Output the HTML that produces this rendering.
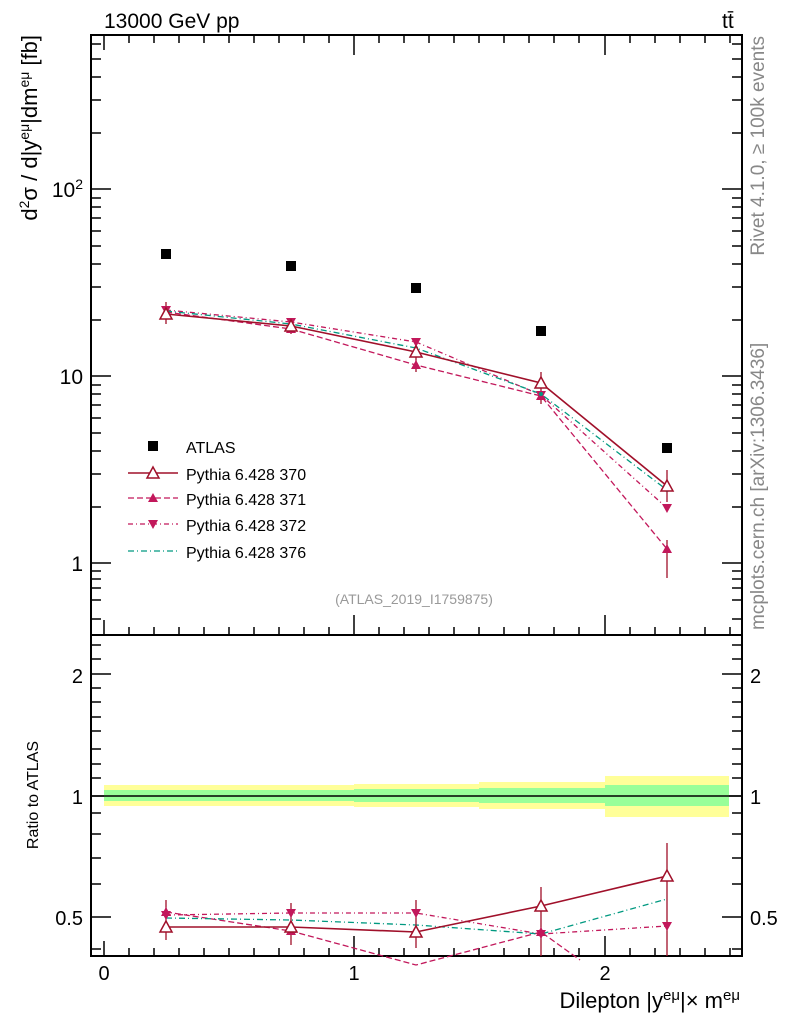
<!DOCTYPE html>
<html><head><style>body{margin:0;background:#fff}svg{display:block}text{font-family:"Liberation Sans",sans-serif}</style></head><body>
<svg width="786" height="1024" viewBox="0 0 786 1024" xmlns="http://www.w3.org/2000/svg">
<text x="104" y="28" font-size="21">13000 GeV pp</text>
<text x="722" y="28" font-size="21">tt̄</text>
<text transform="translate(764,36) rotate(-90)" font-size="19" fill="#888" text-anchor="end">Rivet 4.1.0, ≥ 100k events</text>
<text transform="translate(764,630) rotate(-90)" font-size="19" fill="#888" text-anchor="start">mcplots.cern.ch [arXiv:1306.3436]</text>
<text transform="translate(37,35) rotate(-90)" font-size="22" text-anchor="end">d<tspan baseline-shift="super" font-size="14">2</tspan>σ / d|y<tspan baseline-shift="super" font-size="14">eμ</tspan>|dm<tspan baseline-shift="super" font-size="14">eμ</tspan> [fb]</text>
<text transform="translate(38,795) rotate(-90)" font-size="16" text-anchor="middle">Ratio to ATLAS</text>
<text x="414" y="604" font-size="14" fill="#999" text-anchor="middle">(ATLAS_2019_I1759875)</text>
<rect x="91" y="35" width="651" height="600" fill="none" stroke="#000" stroke-width="2"/>
<rect x="91" y="635" width="651" height="321" fill="none" stroke="#000" stroke-width="2"/>
<text x="83" y="197" font-size="21" text-anchor="end">10<tspan baseline-shift="super" font-size="14">2</tspan></text>
<text x="83" y="384" font-size="21" text-anchor="end">10</text>
<text x="83" y="571" font-size="21" text-anchor="end">1</text>
<g stroke="#000" stroke-width="1.5">
<path d="M91 189h20M742 189h-20M91 376h20M742 376h-20M91 563h20M742 563h-20"/>
<path d="M91 619h10M91 600h10M91 588h10M91 579h10M91 571h10M91 507h10M91 474h10M91 451h10M91 433h10M91 418h10M91 405h10M91 394h10M91 385h10M91 320h10M91 287h10M91 264h10M91 246h10M91 231h10M91 218h10M91 207h10M91 198h10M91 133h10M91 100h10M91 77h10M91 59h10M91 44h10"/>
<path d="M742 619h-10M742 600h-10M742 588h-10M742 579h-10M742 571h-10M742 507h-10M742 474h-10M742 451h-10M742 433h-10M742 418h-10M742 405h-10M742 394h-10M742 385h-10M742 320h-10M742 287h-10M742 264h-10M742 246h-10M742 231h-10M742 218h-10M742 207h-10M742 198h-10M742 133h-10M742 100h-10M742 77h-10M742 59h-10M742 44h-10"/>
<path d="M104 35v15M354 35v20M605 35v20M104 635v-15M354 635v-20M605 635v-20M104 956v-15M354 956v-20M605 956v-20"/>
<path d="M129 35v8M154 35v8M179 35v8M204 35v8M229 35v8M254 35v8M279 35v8M304 35v8M329 35v8M379 35v8M404 35v8M429 35v8M454 35v8M479 35v8M504 35v8M529 35v8M554 35v8M579 35v8M630 35v8M655 35v8M680 35v8M705 35v8M730 35v8"/>
<path d="M129 635v-8M154 635v-8M179 635v-8M204 635v-8M229 635v-8M254 635v-8M279 635v-8M304 635v-8M329 635v-8M379 635v-8M404 635v-8M429 635v-8M454 635v-8M479 635v-8M504 635v-8M529 635v-8M554 635v-8M579 635v-8M630 635v-8M655 635v-8M680 635v-8M705 635v-8M730 635v-8"/>
<path d="M129 956v-8M154 956v-8M179 956v-8M204 956v-8M229 956v-8M254 956v-8M279 956v-8M304 956v-8M329 956v-8M379 956v-8M404 956v-8M429 956v-8M454 956v-8M479 956v-8M504 956v-8M529 956v-8M554 956v-8M579 956v-8M630 956v-8M655 956v-8M680 956v-8M705 956v-8M730 956v-8"/>
<path d="M91 674h20M742 674h-20M91 796h20M742 796h-20M91 917h20M742 917h-20"/>
<path d="M91 645h10M91 659h10M91 688h10M91 702h10M91 717h10M91 731h10M91 749h10M91 764h10M91 778h10M91 813h10M91 834h10M91 858h10M91 884h10M91 949h10"/>
<path d="M742 645h-10M742 659h-10M742 688h-10M742 702h-10M742 717h-10M742 731h-10M742 749h-10M742 764h-10M742 778h-10M742 813h-10M742 834h-10M742 858h-10M742 884h-10M742 949h-10"/>
</g>
<rect x="104" y="785" width="125" height="21" fill="#ffff99"/>
<rect x="229" y="785" width="125" height="21" fill="#ffff99"/>
<rect x="354" y="784" width="125" height="23" fill="#ffff99"/>
<rect x="479" y="782" width="126" height="27" fill="#ffff99"/>
<rect x="605" y="776" width="124" height="41" fill="#ffff99"/>
<rect x="104" y="790" width="250" height="11" fill="#99ff99"/>
<rect x="354" y="789" width="125" height="13" fill="#99ff99"/>
<rect x="479" y="788" width="126" height="15" fill="#99ff99"/>
<rect x="605" y="785" width="124" height="21" fill="#99ff99"/>
<path d="M91 796H742" stroke="#000" stroke-width="1.5"/>
<text x="750" y="683" font-size="20">2</text>
<text x="750" y="804" font-size="20">1</text>
<text x="750" y="925" font-size="20">0.5</text>
<text x="83" y="683" font-size="20" text-anchor="end">2</text>
<text x="83" y="804" font-size="20" text-anchor="end">1</text>
<text x="83" y="925" font-size="20" text-anchor="end">0.5</text>
<text x="104" y="980" font-size="20" text-anchor="middle">0</text>
<text x="354" y="980" font-size="20" text-anchor="middle">1</text>
<text x="605" y="980" font-size="20" text-anchor="middle">2</text>
<text x="740" y="1008" font-size="22" text-anchor="end">Dilepton |y<tspan baseline-shift="super" font-size="15">eμ</tspan>|× m<tspan baseline-shift="super" font-size="15">eμ</tspan></text>
<g fill="#000">
<rect x="161" y="249" width="10" height="10"/><rect x="286" y="261" width="10" height="10"/><rect x="411" y="283" width="10" height="10"/><rect x="536" y="326" width="10" height="10"/><rect x="662" y="443" width="10" height="10"/>
</g>
<g fill="none" stroke-width="1.3">
<polyline points="166,312 291,329 416,365 541,396 667,549" stroke="#c2185b" stroke-dasharray="6,3"/>
<polyline points="166,310 291,322 416,342 541,395 667,508" stroke="#c2185b" stroke-dasharray="5,3,1,3"/>
<polyline points="166,311 291,324 416,348 541,394 667,490" stroke="#009980" stroke-dasharray="6,3,1,3"/>
<polyline points="166,314 291,326 416,352 541,383 667,486" stroke="#a0102a" stroke-width="1.6"/>
<path d="M166 302v22M291 318v16M416 340v22M541 372v32M667 470v32M667 540v38M416 356v16" stroke="#a0102a"/>
</g>
<g fill="#c2185b">
<path d="M166 307l5 9h-10zM291 324l5 9h-10zM416 360l5 9h-10zM541 391l5 9h-10zM667 544l5 9h-10z"/>
<path d="M166 315l5 -9h-10zM291 327l5 -9h-10zM416 347l5 -9h-10zM541 400l5 -9h-10zM667 513l5 -9h-10z"/>
</g>
<g fill="#009980"><circle cx="166" cy="311" r="2"/><circle cx="291" cy="324" r="2"/><circle cx="416" cy="348" r="2"/><circle cx="541" cy="394" r="2"/><circle cx="667" cy="490" r="2"/></g>
<g fill="#fff" stroke="#a0102a" stroke-width="1.5">
<path d="M166 308l6 11h-12zM291 320l6 11h-12zM416 346l6 11h-12zM541 377l6 11h-12zM667 480l6 11h-12z"/>
</g>
<g fill="none" stroke-width="1.3">
<polyline points="166,912 291,931 416,965 541,932 580,960" stroke="#c2185b" stroke-dasharray="6,3"/>
<polyline points="166,915 291,913 416,913 541,934 667,926" stroke="#c2185b" stroke-dasharray="5,3,1,3"/>
<polyline points="166,918 291,920 416,925 541,934 667,899" stroke="#009980" stroke-dasharray="6,3,1,3"/>
<polyline points="166,927 291,927 416,932 541,906 667,876" stroke="#a0102a" stroke-width="1.6"/>
<path d="M166 900v40M291 903v42M416 900v48M541 887v40M541 920v36M667 843v66M667 870v86" stroke="#a0102a"/>
</g>
<g fill="#c2185b">
<path d="M166 907l5 9h-10zM291 926l5 9h-10zM541 927l5 9h-10z"/>
<path d="M166 920l5 -9h-10zM291 918l5 -9h-10zM416 918l5 -9h-10zM541 939l5 -9h-10zM667 931l5 -9h-10z"/>
</g>
<g fill="#fff" stroke="#a0102a" stroke-width="1.5">
<path d="M166 921l6 11h-12zM291 921l6 11h-12zM416 926l6 11h-12zM541 900l6 11h-12zM667 870l6 11h-12z"/>
</g>
<rect x="148" y="441" width="10" height="10" fill="#000"/>
<text x="186" y="453" font-size="16">ATLAS</text>
<path d="M128 473h50" stroke="#a0102a" stroke-width="1.5"/><path d="M153 467l6 11h-12z" fill="#fff" stroke="#a0102a" stroke-width="1.5"/>
<text x="186" y="480" font-size="16">Pythia 6.428 370</text>
<path d="M128 498h50" stroke="#c2185b" stroke-width="1.3" stroke-dasharray="6,3"/><path d="M153 493l5 9h-10z" fill="#c2185b"/>
<text x="186" y="505" font-size="16">Pythia 6.428 371</text>
<path d="M128 524h50" stroke="#c2185b" stroke-width="1.3" stroke-dasharray="5,3,1,3"/><path d="M153 529l5 -9h-10z" fill="#c2185b"/>
<text x="186" y="531" font-size="16">Pythia 6.428 372</text>
<path d="M128 551h50" stroke="#009980" stroke-width="1.3" stroke-dasharray="6,3,1,3"/>
<text x="186" y="558" font-size="16">Pythia 6.428 376</text>
</svg>
</body></html>
